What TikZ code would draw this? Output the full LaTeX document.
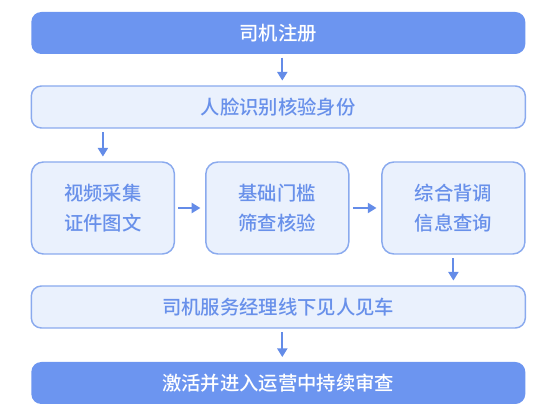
\documentclass[tikz,border=0pt]{standalone}
\usepackage{fontspec}
\setmainfont{Noto Sans CJK SC}
\newfontfamily\medfont{Noto Sans CJK SC Medium}
\usepackage{xcolor}
\definecolor{primary}{RGB}{108, 149, 240}
\definecolor{lightbg}{RGB}{234, 241, 253}
\definecolor{edge}{RGB}{138, 170, 238}
\definecolor{labeltext}{RGB}{104, 144, 234}
\definecolor{flowline}{RGB}{100, 140, 232}
\usepackage{tikz}
\usetikzlibrary{arrows.meta,positioning,calc}

\begin{document}
\begin{tikzpicture}[
  x=0.75pt, y=-0.75pt,
  widebox/.style={rounded corners=7.5pt, minimum width=370.5pt, minimum height=31.5pt, inner sep=0pt, align=center, font=\fontsize{14.5}{22.5}\selectfont\medfont},
  darkbox/.style={widebox, fill=primary, text=white},
  lightbox/.style={widebox, draw=edge, fill=lightbg, text=labeltext, line width=1.1pt},
  stagebox/.style={lightbox, rounded corners=9pt, minimum width=107.25pt, minimum height=69pt},
  flow/.style={-{Triangle[length=6.5pt,width=7.5pt]}, line width=1.5pt, color=flowline, shorten <=2.5pt, shorten >=3.5pt}
]
\useasboundingbox (0,0) rectangle (550,416);
\node[darkbox] (reg) at (278.3,33) {司机注册};
\node[lightbox] (face) at (278.3,107) {人脸识别核验身份};
\node[stagebox] (video) at (102.9,208) {视频采集\\证件图文};
\node[stagebox] (basic) at (277.3,208) {基础门槛\\筛查核验};
\node[stagebox] (bgcheck) at (453.4,208) {综合背调\\信息查询};
\node[lightbox] (mgr) at (278.3,307) {司机服务经理线下见人见车};
\node[darkbox] (act) at (278.3,383) {激活并进入运营中持续审查};

\draw[flow] ([xshift=3pt]reg.south) -- ([xshift=3pt]face.north);
\draw[flow] (face.south -| video.north) -- (video.north);
\draw[flow] (video) -- (basic);
\draw[flow] (basic) -- (bgcheck);
\draw[flow] (bgcheck.south) -- (bgcheck.south |- mgr.north);
\draw[flow] ([xshift=3pt]mgr.south) -- ([xshift=3pt]act.north);
\end{tikzpicture}
\end{document}
